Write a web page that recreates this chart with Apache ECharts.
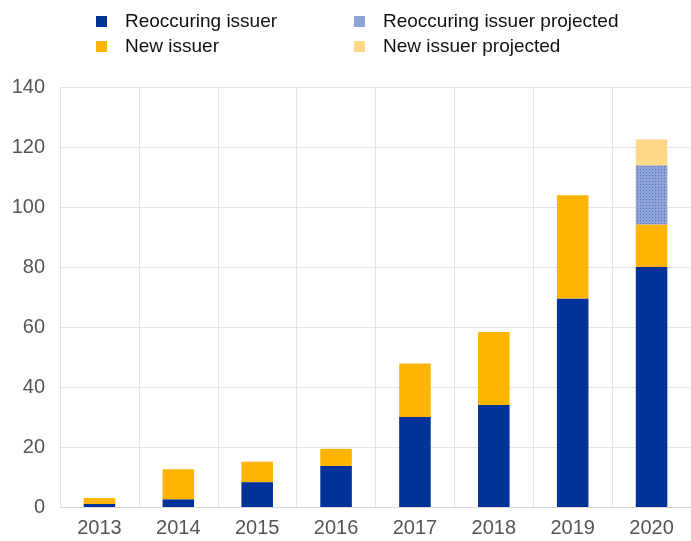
<!DOCTYPE html>
<html>
<head>
<meta charset="utf-8">
<script src="https://cdn.jsdelivr.net/npm/echarts@6/dist/echarts.min.js"></script>
<style>
  html, body { margin: 0; padding: 0; background: #fff; }
  #chart { width: 691px; height: 541px; }
</style>
</head>
<body>
<div id="chart"></div>
<script>
const years = ['2013', '2014', '2015', '2016', '2017', '2018', '2019', '2020'];
const reoccuring = [1, 2.6, 8.3, 13.7, 30, 34, 69.5, 80];
const newIssuer = [2, 10, 6.8, 5.7, 17.8, 24.3, 34.4, 14.2];
const reoccuringProjected = [null, null, null, null, null, null, null, 19.7];
const newProjected = [null, null, null, null, null, null, null, 8.6];

// dotted fill for the projected reoccuring segment
function dots(bg, fg) {
  const c = document.createElement('canvas');
  c.width = 3; c.height = 3;
  const ctx = c.getContext('2d');
  ctx.fillStyle = bg;
  ctx.fillRect(0, 0, 3, 3);
  ctx.fillStyle = fg;
  ctx.fillRect(1, 1, 1, 1);
  return { image: c, repeat: 'repeat' };
}

const chart = echarts.init(document.getElementById('chart'));
const font = 'Liberation Sans, Arial, sans-serif';

const legendBase = {
  top: 7,
  icon: 'rect',
  itemWidth: 11,
  itemHeight: 11,
  itemGap: 6,
  orient: 'vertical',
  textStyle: { fontSize: 19, color: '#111', fontFamily: font, padding: [0, 0, 0, 13] }
};

chart.setOption({
  animation: false,
  textStyle: { fontFamily: font },
  legend: [
    Object.assign({}, legendBase, {
      left: 91,
      data: [
        { name: 'Reoccuring issuer', itemStyle: { color: '#003299' } },
        { name: 'New issuer', itemStyle: { color: '#ffb400' } }
      ]
    }),
    Object.assign({}, legendBase, {
      left: 349,
      data: [
        { name: 'Reoccuring issuer projected', itemStyle: { color: '#8ea3d8' } },
        { name: 'New issuer projected', itemStyle: { color: '#fed886' } }
      ]
    })
  ],
  grid: { left: 60, right: -1, top: 87, bottom: 34, containLabel: false },
  xAxis: {
    type: 'category',
    data: years,
    axisTick: { show: false },
    axisLine: { lineStyle: { color: '#d9d9d9' } },
    axisLabel: { fontSize: 20, color: '#555', margin: 11 },
    splitLine: { show: true, lineStyle: { color: '#e3e3e3' } }
  },
  yAxis: {
    type: 'value',
    min: 0,
    max: 140,
    interval: 20,
    axisLabel: { fontSize: 20, color: '#555', margin: 15 },
    axisLine: { show: false },
    axisTick: { show: false },
    splitLine: { lineStyle: { color: '#e3e3e3' } }
  },
  series: [
    {
      name: 'Reoccuring issuer', type: 'bar', stack: 'a', barWidth: '40%',
      data: reoccuring, itemStyle: { color: '#003299' }
    },
    {
      name: 'New issuer', type: 'bar', stack: 'a',
      data: newIssuer, itemStyle: { color: '#ffb400' }
    },
    {
      name: 'Reoccuring issuer projected', type: 'bar', stack: 'a',
      data: reoccuringProjected, itemStyle: { color: dots('#8ea3d8', '#5670b8') }
    },
    {
      name: 'New issuer projected', type: 'bar', stack: 'a',
      data: newProjected, itemStyle: { color: '#fed886' }
    }
  ]
});
</script>
</body>
</html>
